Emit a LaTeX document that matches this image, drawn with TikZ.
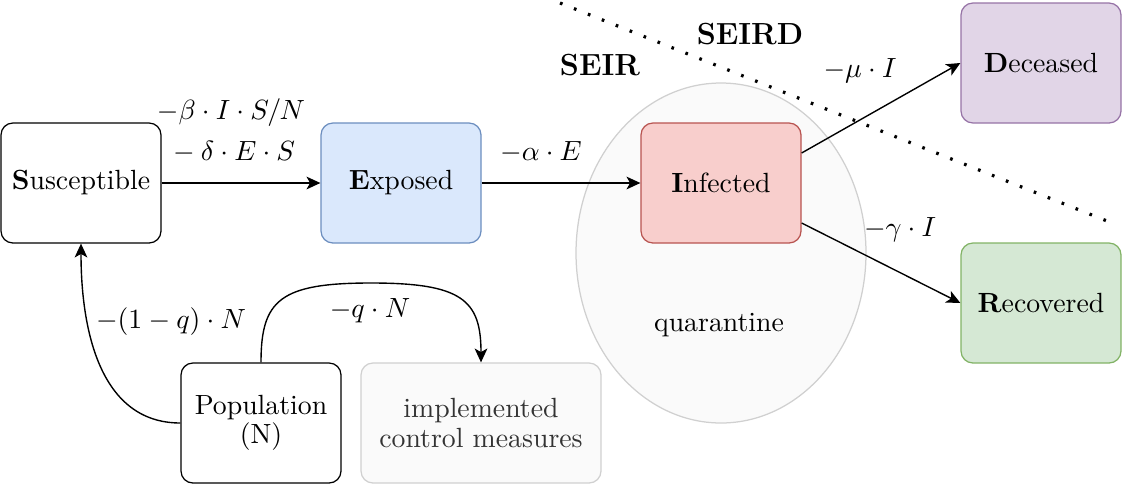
\documentclass[tikz,border=0pt]{standalone}
\usetikzlibrary{arrows.meta,shapes.geometric}
\definecolor{expF}{HTML}{DAE8FC}\definecolor{expD}{HTML}{6C8EBF}
\definecolor{infF}{HTML}{F8CECC}\definecolor{infD}{HTML}{B85450}
\definecolor{decF}{HTML}{E1D5E7}\definecolor{decD}{HTML}{9673A6}
\definecolor{recF}{HTML}{D5E8D4}\definecolor{recD}{HTML}{82B366}
\definecolor{ctlF}{HTML}{FAFAFA}\definecolor{ctlD}{HTML}{D0D0D0}
\definecolor{ctlT}{HTML}{333333}
\begin{document}
\begin{tikzpicture}[x=0.36pt,y=-0.36pt,
  box/.style={draw,rounded corners=4.3pt,minimum width=57.6pt,minimum height=43.2pt,inner sep=0pt,line width=0.45pt,font=\fontsize{10}{10.5}\selectfont,align=center},
  conn/.style={line width=0.5pt,-{Stealth[length=5pt,width=4.6pt,inset=1.3pt]}},
  lbl/.style={inner sep=0pt,font=\fontsize{10}{12}\selectfont},
  title/.style={inner sep=0pt,font=\fontsize{11}{13}\selectfont\bfseries}]
\useasboundingbox (0,0) rectangle (1122,484);
% quarantine zone
\node[ellipse,draw=ctlD,fill=ctlF,line width=0.45pt,minimum width=104.4pt,minimum height=122.4pt,inner sep=0pt] (q) at (721,253) {};
\node[lbl] (qt) at (719,325) {quarantine};
% dotted divider
\coordinate (d1) at (560,3);
\coordinate (d2) at (1112,223);
\draw[line width=1.15pt,dash pattern=on 0.95pt off 4.45pt] (d1) -- (d2);
\node[title] (seir) at (600,65) {SEIR};
\node[title] (seird) at (750,34) {SEIRD};
% compartments
\node[box] (S) at (81,183) {\textbf{S}usceptible};
\node[box,fill=expF,draw=expD] (E) at (401,183) {\textbf{E}xposed};
\node[box,fill=infF,draw=infD] (I) at (721,183) {\textbf{I}nfected};
\node[box,fill=decF,draw=decD] (D) at (1041,63) {\textbf{D}eceased};
\node[box,fill=recF,draw=recD] (R) at (1041,303) {\textbf{R}ecovered};
\node[box] (P) at (261,423) {Population\\(N)};
\node[box,draw=ctlD,fill=ctlF,text=ctlT,minimum width=86.4pt] (C) at (481,423) {implemented\\control measures};
% connectors
\draw[conn] (S) -- (E);
\draw[conn] (E) -- (I);
\draw[conn] (I.east |- 0,153) -- (D.west);
\draw[conn] (I.east |- 0,223) -- (R.west);
\draw[conn] (P.west) .. controls (100,423) and (81,330) .. (S.south);
\draw[conn] (P.north) .. controls (261,300) and (280,283) .. (371,283) .. controls (462,283) and (481,300) .. (C.north);
% labels
\node[lbl] (l1) at (231,113) {$-\beta\cdot I\cdot S/N$};
\node[lbl] (l2) at (231,152) {${}-\delta\cdot E\cdot S$};
\node[lbl] (l3) at (541,152) {$-\alpha\cdot E$};
\node[lbl] (l4) at (860,71) {$-\mu\cdot I$};
\node[lbl] (l5) at (900,230) {$-\gamma\cdot I$};
\node[lbl] (l6) at (171,322) {$-(1-q)\cdot N$};
\node[lbl] (l7) at (370,311) {$-q\cdot N$};
\end{tikzpicture}
\end{document}
